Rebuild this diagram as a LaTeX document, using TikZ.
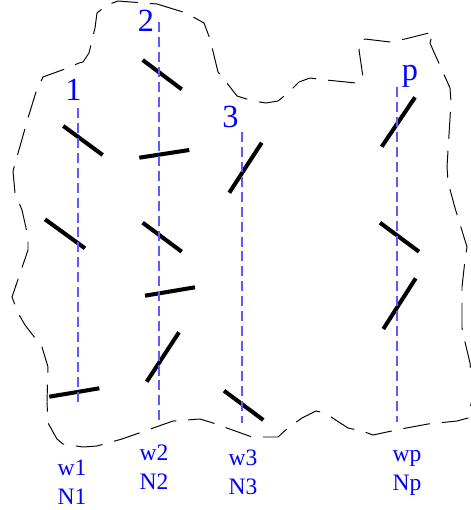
\documentclass[tikz,border=0pt]{standalone}
\usepackage{fontspec}
\setmainfont{Liberation Serif}
\usetikzlibrary{positioning}
\definecolor{axisblue}{RGB}{90,90,255}

\begin{document}
\begin{tikzpicture}[
  x=0.02cm, y=-0.02cm,
  wall/.style={draw=black, line width=0.55pt, dash pattern=on 15.3pt off 6.8pt},
  axis/.style={draw=axisblue, line width=0.7pt, dash pattern=on 5.7pt off 2.8pt},
  rotor/.style={draw=black, line width=2.3pt},
  toplab/.style={text=blue, font=\fontsize{18.4}{22}\selectfont, inner sep=0pt, anchor=base},
  botlab/.style={text=blue, font=\fontsize{13.4}{16}\selectfont, inner sep=0pt, anchor=base},
]
\useasboundingbox (0,0) rectangle (470,510);

% Boundary of the region
\draw[wall] (157,4) -- (183,12) -- (195,18) -- (204,23) -- (210,39) -- (218,72)
  -- (223,78) -- (237,96) -- (253,101) -- (266,103) -- (278,101) -- (289,92)
  -- (299,82) -- (310,78) -- (326,80) -- (356,83) -- (363,77) -- (359,50)
  -- (360,41) -- (365,39) -- (390,42) -- (405,39) -- (433,32) -- (430,43)
  -- (433,50) -- (450,88) -- (451,102) -- (447,167) -- (448,182) -- (455,208)
  -- (467,247) -- (465,260) -- (462,287) -- (462,328) -- (465,342) -- (470,363)
  -- (473,395) -- (468,418) -- (457,421) -- (428,424) -- (401,429) -- (373,435)
  -- (362,431) -- (348,428) -- (325,413) -- (316,411) -- (302,418) -- (289,427)
  -- (278,437) -- (252,437) -- (213,423) -- (200,419) -- (173,421) -- (122,439)
  -- (97,446) -- (83,447) -- (63,444) -- (57,439) -- (48,423) -- (47,402)
  -- (48,367) -- (42,347) -- (25,325) -- (18,313) -- (12,297) -- (28,250)
  -- (28,237) -- (22,210) -- (17,198) -- (15,193) -- (13,171) -- (28,118)
  -- (36,92) -- (43,77) -- (65,69) -- (79,63) -- (83,62) -- (89,53)
  -- (95,28) -- (97,13) -- (107,5) -- (118,1) -- cycle;

% Column labels
\foreach \n/\x/\y in {1/73.5/100, 2/146/31.7, 3/230.5/128, p/410/81} {
  \node[toplab] (lab\n) at (\x,\y) {\n};
}

% Weights and counts
\foreach \n/\x/\y in {1/72/475, 2/154/460, 3/243/465, p/407/461} {
  \node[botlab] (w\n) at (\x,\y) {w\n};
  \node[botlab] (N\n) at (\x,{\y+29.5}) {N\n};
}

% Rotors
\foreach \xa/\ya/\xb/\yb in {63.3/126/102.7/155, 45/219.3/85/248.3, 49.3/396.7/99.3/388.3,
    142.7/60/181.7/89.3, 139.3/157.7/189.3/150, 142.7/222.7/181.7/251.7,
    145/295.7/195/287.3, 146.7/381.7/179/332.3,
    229.3/192.7/261.7/142.7, 224/390.7/263.3/420,
    381.7/146.7/415/97.3, 380/222.7/419/251.7, 383.3/329/415.7/278.3} {
  \draw[rotor] (\xa,\ya) -- (\xb,\yb);
}

% Axes
\coordinate (top1) at (78,108);  \coordinate (bot1) at (78,403);
\coordinate (top2) at (159,22);  \coordinate (bot2) at (159,425);
\coordinate (top3) at (242,132); \coordinate (bot3) at (242,423);
\coordinate (topp) at (397,87);  \coordinate (botp) at (397,422);
\draw[axis] (top1) -- (bot1);
\draw[axis] (top2) -- (bot2);
\draw[axis] (top3) -- (bot3);
\draw[axis] (topp) -- (botp);

\end{tikzpicture}
\end{document}
